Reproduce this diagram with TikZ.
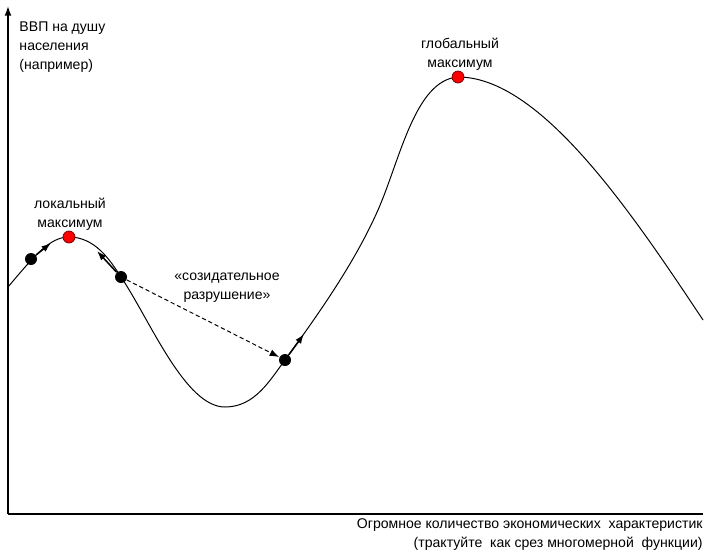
\documentclass[tikz,border=0pt]{standalone}
\usepackage{fontspec}
\setmainfont{Liberation Sans}
\usetikzlibrary{arrows.meta}

\begin{document}
\begin{tikzpicture}[x=0.025cm,y=-0.025cm,line width=0.7pt,>={Latex[length=2.4mm,width=1.7mm]},
  font=\fontsize{10}{13.5}\selectfont,
  dot/.style={circle,fill=black,inner sep=0pt,minimum size=3mm},
  maxdot/.style={circle,fill=red,draw=red!40!black,line width=0.5pt,inner sep=0pt,minimum size=3mm},
  move/.style={->,line width=1.1pt}]
  \useasboundingbox (0,0) rectangle (720,559);
  % ejes
  \coordinate (o) at (8,514);
  \coordinate (ytop) at (8,6);
  \coordinate (xend) at (703,514);
  \draw[->,line width=1pt] (o)--(ytop);
  \draw[line width=1pt] (o)--(xend);
  \node[anchor=west,align=left,inner sep=0pt] (ylab) at (19,47){ВВП на душу\\населения\\(например)};
  \node[anchor=east,align=right,inner sep=0pt] (xlab) at (703,535){Огромное количество экономических\ \ характеристик\\(трактуйте\ \ как срез многомерной\ \ функции)};
  % curva
  \draw (8,287) .. controls (35,255) and (50,237) .. (69,237)
    .. controls (95,237) and (110,260) .. (121,277)
    .. controls (150,320) and (185,407) .. (225,407)
    .. controls (255,407) and (270,380) .. (285,360)
    .. controls (320,312) and (355,262) .. (378,210)
    .. controls (400,160) and (415,80) .. (458,77)
    .. controls (540,77) and (630,210) .. (703,320);
  % puntos
  \node[dot] (p1) at (31,259){};
  \node[maxdot] (lmax) at (69,237){};
  \node[dot] (p2) at (121,277){};
  \node[dot] (p3) at (285,360){};
  \node[maxdot] (gmax) at (458,77){};
  \node[align=center] (llab) at (70,214){локальный\\максимум};
  \node[align=center] (glab) at (460,54){глобальный\\максимум};
  \node[align=center] (cdlab) at (227,288){«созидательное\\разрушение»};
  % movimientos
  \coordinate (t1) at (51,243);
  \coordinate (t2) at (97,251);
  \coordinate (t3) at (304,334);
  \draw[move] (p1)--(t1);
  \draw[move] (p2)--(t2);
  \draw[move] (p3)--(t3);
  \draw[->,densely dashed,line width=0.7pt] (p2)--(p3);
\end{tikzpicture}
\end{document}
